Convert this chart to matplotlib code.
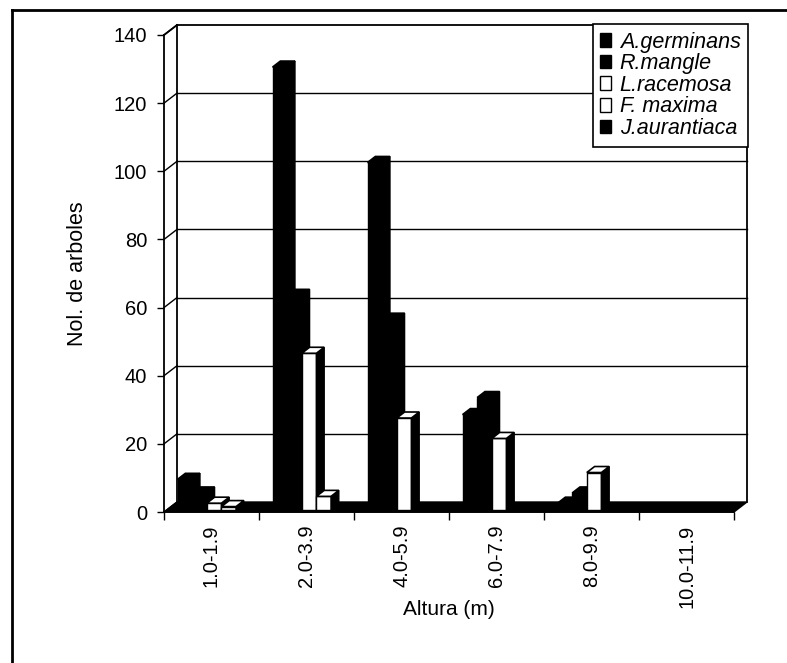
import numpy as np
import matplotlib
matplotlib.use("Agg")
import matplotlib.pyplot as plt
from matplotlib.patches import Polygon, Patch
from matplotlib.lines import Line2D

# ---------------------------------------------------------------- data
clases = ["1.0-1.9", "2.0-3.9", "4.0-5.9", "6.0-7.9", "8.0-9.9", "10.0-11.9"]
especies = ["A.germinans", "R.mangle", "L.racemosa", "F. maxima", "J.aurantiaca"]
a_germinans = [9, 130, 102, 28, 2, 0]
r_mangle = [5, 63, 56, 33, 5, 0]
l_racemosa = [2, 46, 27, 21, 11, 0]
f_maxima = [1, 4, 0, 0, 0, 0]
j_aurantiaca = [0, 0, 0, 0, 0, 0]
series = [a_germinans, r_mangle, l_racemosa, f_maxima, j_aurantiaca]
relleno = ["black", "black", "white", "white", "black"]

plt.rcParams.update({"font.family": "Liberation Sans", "font.size": 14})

W, H = 787, 663
fig = plt.figure(figsize=(W / 100, H / 100), dpi=100)
# front plane of the 3D box, in pixels
x0p, x1p, y0p, y1p = 164, 734, 512, 35
ax = fig.add_axes([x0p / W, 1 - y0p / H, (x1p - x0p) / W, (y0p - y1p) / H])
ax.set_xlim(0, 6)
ax.set_ylim(0, 140)
ax.patch.set_visible(False)

ppx = (x1p - x0p) / 6.0         # px per category
ppy = (y0p - y1p) / 140.0       # px per unit
DX, DY = 13 / ppx, 10 / ppy     # depth offset of back wall (data units)

# walls, floor, gridlines
kw = dict(clip_on=False, color="black", lw=1.3)
ax.plot([DX, 6 + DX], [140 + DY, 140 + DY], **kw)
ax.plot([DX, DX], [DY, 140 + DY], **kw)
ax.plot([6 + DX, 6 + DX], [DY, 140 + DY], **kw)
ax.plot([0, DX], [140, 140 + DY], **kw)
for v in range(20, 140, 20):
    ax.plot([DX, 6 + DX], [v + DY, v + DY], clip_on=False, color="black", lw=1.0, zorder=0.5)
for v in range(0, 141, 20):
    ax.plot([0, DX], [v, v + DY], clip_on=False, color="black", lw=1.0)
ax.add_patch(Polygon([(0, 0), (6, 0), (6 + DX, DY), (DX, DY)], closed=True,
                     facecolor="black", edgecolor="black", clip_on=False, zorder=1))

# bars (Excel-style 3D clustered columns); empty classes draw nothing
w = 1 / 6.5
fx, fy = 0.2 * DX, 0.2 * DY
bdx, bdy = 0.6 * DX, 0.6 * DY
z = 2
for g in range(len(clases)):
    for i, (vals, col) in enumerate(zip(series, relleno)):
        v = vals[g]
        z += 0.01
        if v <= 0:
            continue
        xb = g + 0.75 * w + i * w + fx
        ax.bar(xb, v, bottom=fy, width=w, align="edge", color=col,
               edgecolor="black", lw=1.0, zorder=z, clip_on=False)
        ax.add_patch(Polygon([(xb + w, fy), (xb + w + bdx, fy + bdy),
                              (xb + w + bdx, v + fy + bdy), (xb + w, v + fy)],
                             closed=True, facecolor="black", edgecolor="black",
                             lw=1.0, zorder=z, clip_on=False))
        ax.add_patch(Polygon([(xb, v + fy), (xb + w, v + fy),
                              (xb + w + bdx, v + fy + bdy), (xb + bdx, v + fy + bdy)],
                             closed=True, facecolor=col, edgecolor="black",
                             lw=1.2, zorder=z, clip_on=False))

# axes, ticks
for s in ["top", "right"]:
    ax.spines[s].set_visible(False)
ax.spines["left"].set_linewidth(1.3)
ax.spines["bottom"].set_linewidth(1.3)
ax.spines["left"].set_zorder(5)
ax.spines["bottom"].set_zorder(5)
ax.set_yticks(range(0, 141, 20))
ax.tick_params(axis="y", direction="out", length=5, width=1, labelsize=14.5, pad=7)
ax.set_xticks(range(0, 7))
ax.set_xticklabels([])
ax.set_xticks(np.arange(len(clases)) + 0.5, minor=True)
ax.set_xticklabels(clases, minor=True, rotation=90, fontsize=14.5)
ax.tick_params(axis="x", which="major", direction="out", length=6, width=1)
ax.tick_params(axis="x", which="minor", length=0, pad=9)

ax.set_ylabel("Nol. de arboles", fontsize=15.5)
ax.yaxis.set_label_coords(-0.133, 0.5)
ax.set_xlabel("Altura (m)", fontsize=15)
ax.xaxis.set_label_coords(0.5, -0.185)

# legend
handles = [Patch(facecolor=c, edgecolor="black", lw=1) for c in relleno]
leg = fig.legend(handles, especies, loc="upper right",
                 bbox_to_anchor=(748 / W, 1 - 24 / H), frameon=True, fancybox=False,
                 edgecolor="black", framealpha=1, borderaxespad=0, borderpad=0.35,
                 handlelength=0.5, handleheight=0.6, handletextpad=0.4,
                 labelspacing=0.03, prop={"style": "italic", "size": 15.5})
leg.get_frame().set_linewidth(1.2)
leg.set_zorder(10)

# outer frame (left and top edges only visible in the scan)
fig.add_artist(Line2D([12 / W, 12 / W], [0, 1 - 10 / H], color="black", lw=2))
fig.add_artist(Line2D([12 / W, 1], [1 - 10 / H, 1 - 10 / H], color="black", lw=2))

fig.savefig("out.png", dpi=100)
